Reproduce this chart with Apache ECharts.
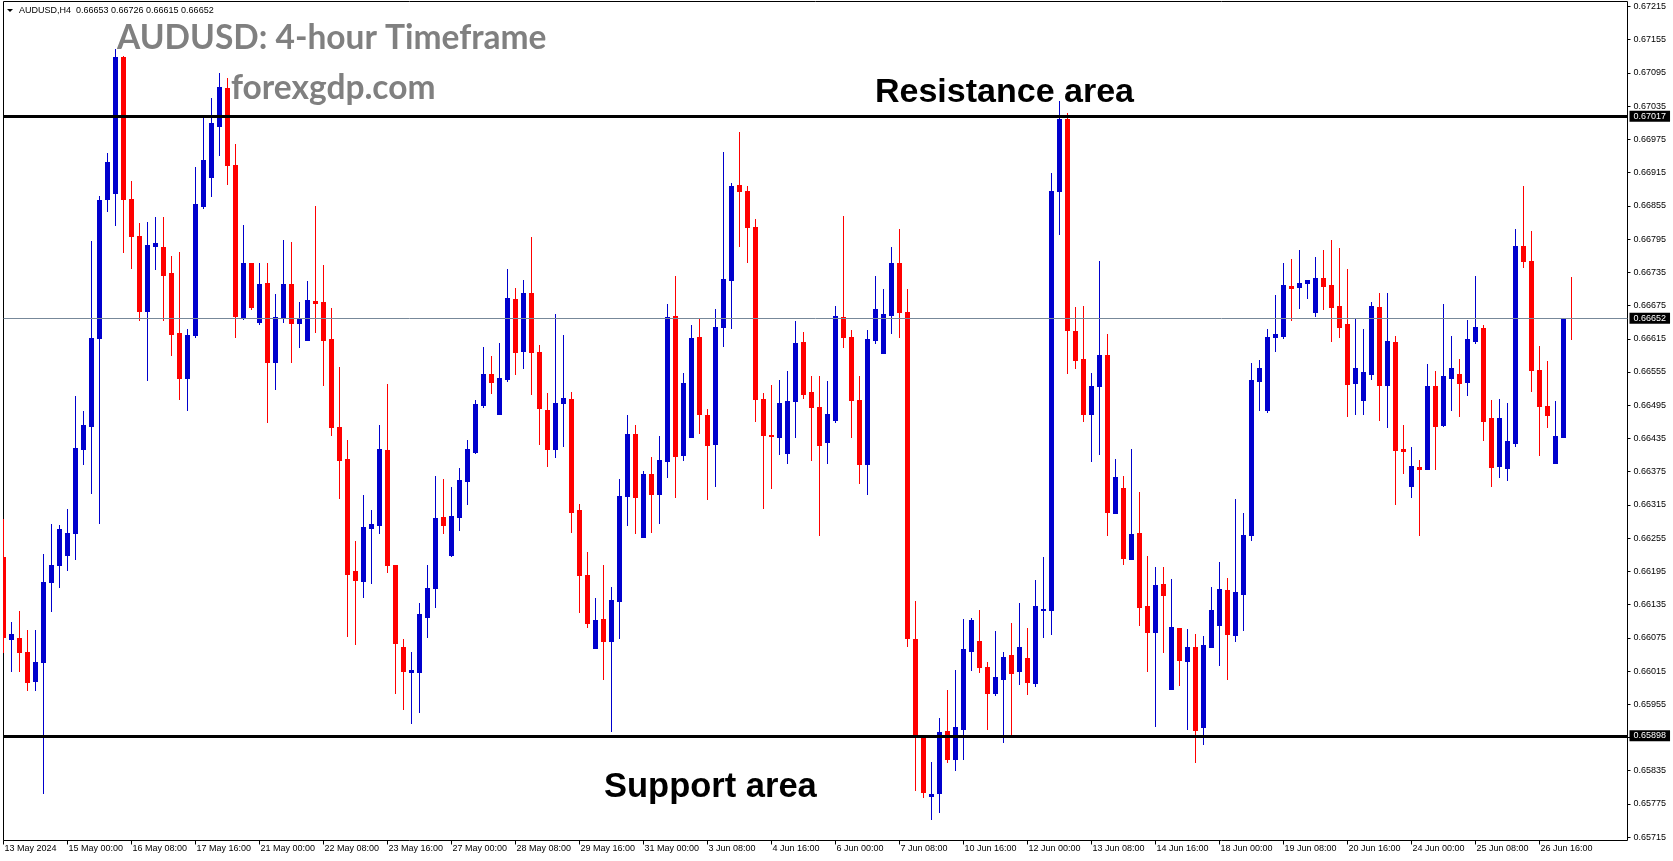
<!DOCTYPE html>
<html>
<head>
<meta charset="utf-8">
<script src="https://cdn.jsdelivr.net/npm/echarts@6/dist/echarts.min.js"></script>
<style>
html,body{margin:0;padding:0;background:#fff;}
#chart{width:1673px;height:861px;}
</style>
</head>
<body>
<div id="chart"></div>
<script>
const symbol = 'AUDUSD';
const timeframe = 'H4';
const chartTitle = 'AUDUSD: 4-hour Timeframe';
const siteName = 'forexgdp.com';

const opens = [
0.66221,0.66072,0.66075,0.66049,0.65997,0.66032,0.66176,0.66207,0.66225,0.66264,
0.66416,0.66458,0.66617,0.66868,0.66879,0.67123,0.66868,0.66800,0.66665,0.66783,
0.66781,0.66734,0.66625,0.66545,0.66622,0.66855,0.66907,0.67000,0.67067,0.66929,
0.66653,0.66751,0.66646,0.66716,0.66573,0.66653,0.66714,0.66643,0.66612,0.66683,
0.66682,0.66614,0.66455,0.66398,0.66196,0.66178,0.66273,0.66279,0.66414,0.66206,
0.66058,0.66014,0.66014,0.66112,0.66165,0.66293,0.66224,0.66293,0.66358,0.66411,
0.66496,0.66551,0.66480,0.66542,0.66687,0.66593,0.66698,0.66591,0.66486,0.66416,
0.66499,0.66506,0.66305,0.66188,0.66057,0.66109,0.66069,0.66141,0.66331,0.66443,
0.66257,0.66370,0.66335,0.66395,0.66657,0.66406,0.66437,0.66618,0.66478,0.66425,
0.66637,0.66722,0.66893,0.66881,0.66817,0.66507,0.66442,0.66437,0.66409,0.66502,
0.66610,0.66519,0.66492,0.66428,0.66469,0.66655,0.66618,0.66505,0.66388,0.66612,
0.66590,0.66658,0.66752,0.66663,0.66073,0.65897,0.65790,0.65794,0.65907,0.65857,
0.65911,0.66052,0.66069,0.66023,0.65976,0.66001,0.66044,0.66015,0.66038,0.65994,
0.66125,0.66126,0.66881,0.67012,0.66629,0.66578,0.66479,0.66529,0.66586,0.66301,
0.66345,0.66218,0.66264,0.66132,0.66086,0.66172,0.65983,0.66093,0.66033,0.66058,
0.65914,0.66059,0.66098,0.66162,0.66080,0.66155,0.66261,0.66538,0.66487,0.66618,
0.66620,0.66710,0.66708,0.66715,0.66664,0.66725,0.66712,0.66674,0.66642,0.66536,
0.66505,0.66551,0.66672,0.66531,0.66610,0.66416,0.66349,0.66384,0.66379,0.66529,
0.66459,0.66544,0.66551,0.66537,0.66611,0.66635,0.66472,0.66386,0.66382,0.66427,
0.66782,0.66756,0.66558,0.66493,0.66391,0.66438,0.66653
];
const highs = [
0.66290,0.66103,0.66124,0.66089,0.66089,0.66227,0.66281,0.66278,0.66308,0.66512,
0.66484,0.66791,0.66873,0.66951,0.67138,0.67125,0.66900,0.66824,0.66826,0.66834,
0.66835,0.66764,0.66771,0.66633,0.66926,0.67013,0.67050,0.67095,0.67086,0.66967,
0.66821,0.66751,0.66751,0.66752,0.66695,0.66794,0.66790,0.66682,0.66719,0.66855,
0.66749,0.66670,0.66564,0.66432,0.66250,0.66333,0.66305,0.66459,0.66534,0.66207,
0.66073,0.66049,0.66138,0.66206,0.66368,0.66362,0.66347,0.66382,0.66432,0.66505,
0.66600,0.66584,0.66608,0.66741,0.66706,0.66722,0.66799,0.66604,0.66517,0.66660,
0.66621,0.66519,0.66317,0.66230,0.66146,0.66206,0.66167,0.66361,0.66478,0.66460,
0.66376,0.66402,0.66439,0.66678,0.66729,0.66553,0.66639,0.66651,0.66488,0.66669,
0.66952,0.66897,0.66989,0.66891,0.66832,0.66517,0.66531,0.66540,0.66557,0.66647,
0.66627,0.66548,0.66548,0.66538,0.66674,0.66837,0.66631,0.66547,0.66631,0.66729,
0.66704,0.66781,0.66813,0.66704,0.66141,0.65897,0.65851,0.65930,0.65981,0.66017,
0.66109,0.66110,0.66126,0.66031,0.66087,0.66049,0.66101,0.66137,0.66093,0.66179,
0.66221,0.66914,0.67045,0.67022,0.66672,0.66674,0.66553,0.66755,0.66623,0.66398,
0.66367,0.66416,0.66338,0.66222,0.66202,0.66202,0.66181,0.66093,0.66091,0.66082,
0.66078,0.66166,0.66211,0.66183,0.66326,0.66301,0.66572,0.66577,0.66633,0.66694,
0.66752,0.66759,0.66776,0.66721,0.66763,0.66776,0.66794,0.66779,0.66741,0.66653,
0.66633,0.66682,0.66698,0.66698,0.66620,0.66459,0.66420,0.66396,0.66570,0.66557,
0.66678,0.66620,0.66578,0.66649,0.66729,0.66640,0.66505,0.66506,0.66499,0.66813,
0.66890,0.66809,0.66602,0.66575,0.66502,0.66653,0.66726
];
const lows = [
0.66049,0.66015,0.66015,0.65981,0.65981,0.65794,0.66124,0.66167,0.66198,0.66218,
0.66388,0.66336,0.66282,0.66846,0.66821,0.66771,0.66743,0.66649,0.66540,0.66741,
0.66649,0.66585,0.66506,0.66487,0.66619,0.66851,0.66872,0.66946,0.66895,0.66619,
0.66651,0.66668,0.66642,0.66465,0.66525,0.66646,0.66573,0.66600,0.66612,0.66628,
0.66531,0.66442,0.66328,0.66078,0.66064,0.66149,0.66174,0.66264,0.66193,0.65975,
0.65946,0.65922,0.65941,0.66077,0.66130,0.66264,0.66222,0.66269,0.66317,0.66409,
0.66492,0.66517,0.66480,0.66539,0.66551,0.66563,0.66516,0.66425,0.66386,0.66402,
0.66422,0.66266,0.66121,0.66095,0.66057,0.66001,0.65907,0.66075,0.66279,0.66264,
0.66257,0.66266,0.66282,0.66365,0.66330,0.66396,0.66437,0.66444,0.66326,0.66349,
0.66602,0.66634,0.66783,0.66754,0.66467,0.66310,0.66345,0.66407,0.66391,0.66437,
0.66508,0.66396,0.66261,0.66390,0.66464,0.66600,0.66437,0.66354,0.66335,0.66607,
0.66590,0.66626,0.66618,0.66061,0.65800,0.65788,0.65748,0.65761,0.65850,0.65836,
0.65857,0.66017,0.66014,0.65911,0.65972,0.65886,0.65897,0.65992,0.65974,0.65988,
0.66077,0.66082,0.66805,0.66554,0.66563,0.66466,0.66395,0.66407,0.66261,0.66301,
0.66209,0.66218,0.66098,0.66015,0.65916,0.66050,0.65983,0.65990,0.65911,0.65851,
0.65884,0.66059,0.66026,0.66001,0.66070,0.66089,0.66252,0.66487,0.66482,0.66593,
0.66616,0.66649,0.66670,0.66689,0.66656,0.66669,0.66611,0.66619,0.66476,0.66480,
0.66480,0.66542,0.66469,0.66456,0.66317,0.66373,0.66330,0.66260,0.66379,0.66379,
0.66458,0.66487,0.66476,0.66513,0.66608,0.66433,0.66349,0.66365,0.66360,0.66422,
0.66745,0.66521,0.66405,0.66455,0.66391,0.66437,0.66615
];
const closes = [
0.66077,0.66082,0.66049,0.65996,0.66032,0.66176,0.66207,0.66271,0.66264,0.66418,
0.66459,0.66617,0.66866,0.66934,0.67123,0.66867,0.66800,0.66665,0.66785,0.66788,
0.66731,0.66623,0.66545,0.66622,0.66858,0.66938,0.67004,0.67069,0.66928,0.66656,
0.66751,0.66673,0.66714,0.66573,0.66655,0.66714,0.66644,0.66653,0.66685,0.66680,
0.66612,0.66455,0.66396,0.66190,0.66179,0.66275,0.66281,0.66416,0.66206,0.66066,
0.66015,0.66017,0.66118,0.66165,0.66292,0.66279,0.66295,0.66360,0.66416,0.66497,
0.66551,0.66537,0.66545,0.66689,0.66591,0.66698,0.66591,0.66490,0.66416,0.66499,
0.66508,0.66303,0.66188,0.66101,0.66107,0.66069,0.66143,0.66331,0.66443,0.66330,
0.66370,0.66335,0.66396,0.66655,0.66404,0.66535,0.66617,0.66479,0.66423,0.66637,
0.66723,0.66891,0.66881,0.66816,0.66507,0.66442,0.66439,0.66499,0.66503,0.66608,
0.66516,0.66492,0.66423,0.66480,0.66657,0.66618,0.66505,0.66388,0.66615,0.66668,
0.66660,0.66752,0.66663,0.66075,0.65896,0.65797,0.65793,0.65905,0.65857,0.65914,
0.66055,0.66107,0.66022,0.65976,0.66004,0.66040,0.66012,0.66058,0.65996,0.66132,
0.66127,0.66881,0.67011,0.66630,0.66577,0.66479,0.66529,0.66586,0.66303,0.66365,
0.66220,0.66262,0.66130,0.66086,0.66170,0.66153,0.66094,0.66035,0.66058,0.65909,
0.66062,0.66125,0.66163,0.66082,0.66158,0.66261,0.66540,0.66563,0.66618,0.66623,
0.66712,0.66706,0.66716,0.66721,0.66725,0.66710,0.66673,0.66637,0.66534,0.66563,
0.66555,0.66674,0.66531,0.66611,0.66414,0.66413,0.66386,0.66379,0.66529,0.66458,
0.66548,0.66563,0.66536,0.66615,0.66636,0.66467,0.66384,0.66472,0.66431,0.66783,
0.66756,0.66558,0.66494,0.66478,0.66440,0.66652,0.66652
];

const xTickLabels = [
'13 May 2024','15 May 00:00','16 May 08:00','17 May 16:00','21 May 00:00','22 May 08:00',
'23 May 16:00','27 May 00:00','28 May 08:00','29 May 16:00','31 May 00:00','3 Jun 08:00',
'4 Jun 16:00','6 Jun 00:00','7 Jun 08:00','10 Jun 16:00','12 Jun 00:00','13 Jun 08:00',
'14 Jun 16:00','18 Jun 00:00','19 Jun 08:00','20 Jun 16:00','24 Jun 00:00','25 Jun 08:00',
'26 Jun 16:00'
];
const yTicks = [
0.65715,0.65775,0.65835,0.65895,0.65955,0.66015,0.66075,0.66135,0.66195,0.66255,
0.66315,0.66375,0.66435,0.66495,0.66555,0.66615,0.66675,0.66735,0.66795,0.66855,
0.66915,0.66975,0.67035,0.67095,0.67155,0.67215
];
const resistanceLevel = 0.67017;
const supportLevel = 0.65898;
const lastPrice = closes[closes.length - 1];
const resistanceText = 'Resistance area';
const supportText = 'Support area';

const barsPerLabel = 8;
const shiftSlots = 7;
const slotCount = closes.length + shiftSlots;
const categories = Array.from({length: slotCount}, (_, i) => String(i));
const candleData = closes.map((c, i) => [i, opens[i], c, lows[i], highs[i]]);

const BULL = '#0000CD';
const BEAR = '#FF0000';
const AXIS_FONT = '"Liberation Sans", Arial, sans-serif';

const chart = echarts.init(document.getElementById('chart'), null, {renderer: 'canvas'});

const showTick = (index) => index % barsPerLabel === 0 && index / barsPerLabel < xTickLabels.length;

const last = closes.length - 1;
const header = symbol + ',' + timeframe + '  ' + opens[last].toFixed(5) + ' ' + highs[last].toFixed(5) + ' ' + lows[last].toFixed(5) + ' ' + closes[last].toFixed(5);

const tagLabel = (txt) => ({
  show: true, position: 'end', distance: 2, formatter: txt,
  backgroundColor: '#000', color: '#fff', padding: [1, 4, 0, 4],
  fontSize: 9, fontFamily: AXIS_FONT, lineHeight: 10
});

const option = {
  animation: false,
  backgroundColor: '#fff',
  grid: {
    left: 3.5, right: 45.5, top: 1.5, bottom: 20.5,
    show: true, borderColor: '#000', borderWidth: 1, backgroundColor: 'transparent'
  },
  xAxis: {
    type: 'category',
    data: categories,
    boundaryGap: false,
    axisLine: {show: false},
    splitLine: {show: false},
    axisTick: {show: true, interval: showTick, length: 4, lineStyle: {color: '#000', width: 1}},
    axisLabel: {
      interval: showTick,
      formatter: (value, index) => xTickLabels[index / barsPerLabel] || '',
      align: 'left', margin: 4, fontSize: 9, color: '#000', fontFamily: AXIS_FONT, padding: [0, 0, 0, 1]
    }
  },
  yAxis: {
    type: 'value',
    position: 'right',
    min: 0.65709,
    max: 0.67224,
    axisLine: {show: false},
    splitLine: {show: false},
    axisTick: {show: true, customValues: yTicks, length: 3, lineStyle: {color: '#000'}},
    axisLabel: {
      customValues: yTicks,
      formatter: (v) => v.toFixed(5),
      margin: 6, fontSize: 9, color: '#000', fontFamily: AXIS_FONT
    }
  },
  series: [{
    type: 'custom',
    data: candleData,
    encode: {x: 0, y: [1, 2, 3, 4]},
    clip: true,
    renderItem: function (params, api) {
      const i = api.value(0);
      const o = api.value(1), c = api.value(2), l = api.value(3), h = api.value(4);
      const pO = api.coord([i, o]);
      const pC = api.coord([i, c]);
      const pL = api.coord([i, l]);
      const pH = api.coord([i, h]);
      const x = Math.round(pO[0] - 0.5) + 0.5;
      const color = c >= o ? BULL : BEAR;
      const top = Math.round(Math.min(pO[1], pC[1]));
      const bot = Math.round(Math.max(pO[1], pC[1]));
      return {
        type: 'group',
        children: [
          {type: 'line', shape: {x1: x, y1: Math.round(pH[1]), x2: x, y2: Math.round(pL[1]) + 1},
           style: {stroke: color, lineWidth: 1}},
          {type: 'rect', shape: {x: x - 2.5, y: top, width: 5, height: Math.max(1, bot - top + 1)},
           style: {fill: color}}
        ]
      };
    },
    markLine: {
      silent: true,
      symbol: 'none',
      precision: 5,
      animation: false,
      data: [
        {yAxis: lastPrice, lineStyle: {color: '#778899', width: 1, type: 'solid'}, label: tagLabel(lastPrice.toFixed(5))},
        {yAxis: resistanceLevel, lineStyle: {color: '#000', width: 3, type: 'solid'}, label: tagLabel(resistanceLevel.toFixed(5))},
        {yAxis: supportLevel, lineStyle: {color: '#000', width: 3, type: 'solid'}, label: tagLabel(supportLevel.toFixed(5))}
      ]
    }
  }],
  graphic: [
    {type: 'polygon', z: 20, shape: {points: [[7, 9], [13, 9], [10, 12]]}, style: {fill: '#000'}},
    {type: 'text', z: 20, x: 19, y: 11, style: {text: header, fontSize: 9, fontFamily: AXIS_FONT, fill: '#000', verticalAlign: 'middle'}},
    {type: 'text', z: 20, x: 117, y: 38, style: {text: chartTitle, fontSize: 33.5, fontWeight: 'bold', fontFamily: 'Lato, "Open Sans", sans-serif', fill: '#808080', verticalAlign: 'middle'}},
    {type: 'text', z: 20, x: 231, y: 88, style: {text: siteName, fontSize: 33.5, fontWeight: 'bold', fontFamily: 'Lato, "Open Sans", sans-serif', fill: '#808080', verticalAlign: 'middle'}},
    {type: 'text', z: 20, x: 875, y: 93, style: {text: resistanceText, fontSize: 34, fontWeight: 'bold', fontFamily: '"Liberation Sans", Arial, sans-serif', fill: '#000', verticalAlign: 'middle'}},
    {type: 'text', z: 20, x: 604, y: 787, style: {text: supportText, fontSize: 34.5, fontWeight: 'bold', fontFamily: '"Liberation Sans", Arial, sans-serif', fill: '#000', verticalAlign: 'middle'}}
  ]
};
chart.setOption(option);
</script>
</body>
</html>
